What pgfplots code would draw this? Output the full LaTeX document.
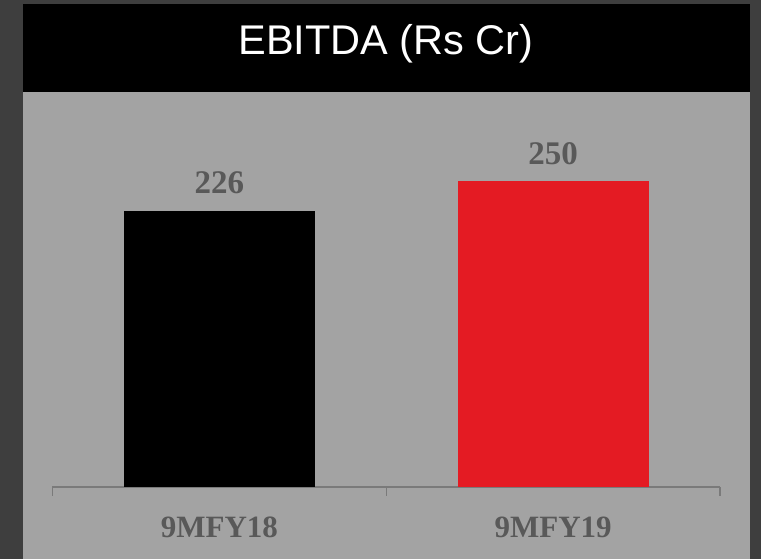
\documentclass[border=0pt]{standalone}
\usepackage{fontspec}
\usepackage{pgfplots}
\pgfplotsset{compat=1.18}
\newfontfamily\lsans{Liberation Sans}
\newfontfamily\lserif{Liberation Serif}
\definecolor{outerbg}{HTML}{3E3E3E}
\definecolor{panel}{HTML}{A3A3A3}
\definecolor{labgray}{HTML}{595959}
\definecolor{axgray}{HTML}{7A7A7A}
\definecolor{barred}{HTML}{E41B23}
\begin{document}
\begin{tikzpicture}[x=1pt,y=1pt]
\fill[outerbg] (0,0) rectangle (761,559);
\fill[panel] (23,0) rectangle (750,467);
\fill[black] (23,467) rectangle (750,555);
\node[anchor=base, text=white, font=\lsans\fontsize{41.5}{41.5}\selectfont, inner sep=0pt] at (386,504) {EBITDA (Rs Cr)};
\begin{axis}[
  at={(52.5pt,72pt)}, anchor=south west,
  scale only axis, width=667.5pt, height=366.75pt,
  xmin=-0.5, xmax=1.5, ymin=0, ymax=300,
  axis x line=bottom, axis y line=none,
  x axis line style={-, draw=axgray, line width=1.5pt},
  xtick={0,1}, xticklabels={9MFY18,9MFY19},
  major tick length=0pt,
  xticklabel style={anchor=base, yshift=-51pt, inner sep=0pt, font=\lserif\bfseries\fontsize{31}{31}\selectfont, text=labgray},
  extra x ticks={-0.5,0.5,1.5}, extra x tick labels={,,},
  extra x tick style={major tick length=9pt, tick align=outside, tick style={draw=axgray, line width=1.2pt}},
  ybar, bar width=191pt,
  /pgf/number format/assume math mode=true,
  nodes near coords,
  every node near coord/.append style={anchor=base, yshift=17pt, inner sep=0pt, font=\lserif\bfseries\fontsize{33}{33}\selectfont, text=labgray},
  clip=false,
]
\addplot[fill=black, draw=none, bar shift=0pt] coordinates {(0,226)};
\addplot[fill=barred, draw=none, bar shift=0pt] coordinates {(1,250)};
\end{axis}
\end{tikzpicture}
\end{document}
